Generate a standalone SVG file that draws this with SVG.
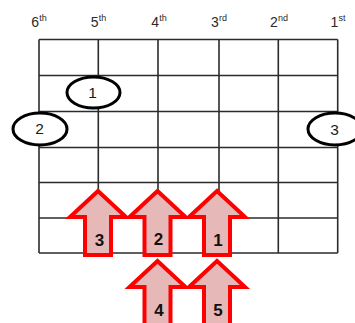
<svg xmlns="http://www.w3.org/2000/svg" width="355" height="323" viewBox="0 0 355 323">
<style>
.grid line{stroke:#2b2b2b;stroke-width:1.6}
.hdr{font-family:"Liberation Sans",Arial,sans-serif;font-size:14px;fill:#2a2a2a;text-anchor:middle}
.sup{font-size:9px}
.finger ellipse{fill:#fff;stroke:#000;stroke-width:3}
.finger text{font-family:"Liberation Sans",Arial,sans-serif;font-size:15.5px;fill:#1a1a1a;text-anchor:middle}
.arrow path{fill:#e6b9b8;stroke:#ff0000;stroke-width:4;stroke-linejoin:miter;stroke-miterlimit:10}
.arrow text{font-family:"Liberation Sans",Arial,sans-serif;font-size:17px;font-weight:bold;fill:#111;text-anchor:middle}
</style>
<rect width="355" height="323" fill="#fff"/>
<g id="headers">
<text class="hdr" x="39" y="26.5">6<tspan class="sup" dy="-5.5">th</tspan></text>
<text class="hdr" x="98.5" y="26.5">5<tspan class="sup" dy="-5.5">th</tspan></text>
<text class="hdr" x="159" y="26.5">4<tspan class="sup" dy="-5.5">th</tspan></text>
<text class="hdr" x="219" y="26.5">3<tspan class="sup" dy="-5.5">rd</tspan></text>
<text class="hdr" x="279" y="26.5">2<tspan class="sup" dy="-5.5">nd</tspan></text>
<text class="hdr" x="338" y="26.5">1<tspan class="sup" dy="-5.5">st</tspan></text>
</g>
<g id="grid" class="grid">
<line x1="39" y1="39.5" x2="39" y2="253"/>
<line x1="98.3" y1="39.5" x2="98.3" y2="253"/>
<line x1="158" y1="39.5" x2="158" y2="253"/>
<line x1="219" y1="39.5" x2="219" y2="253"/>
<line x1="278.3" y1="39.5" x2="278.3" y2="253"/>
<line x1="337.7" y1="39.5" x2="337.7" y2="253"/>
<line x1="39" y1="39.5" x2="337.7" y2="39.5"/>
<line x1="39" y1="75.5" x2="337.7" y2="75.5"/>
<line x1="39" y1="111.5" x2="337.7" y2="111.5"/>
<line x1="39" y1="147.5" x2="337.7" y2="147.5"/>
<line x1="39" y1="182.5" x2="337.7" y2="182.5"/>
<line x1="39" y1="218" x2="337.7" y2="218"/>
<line x1="39" y1="253" x2="337.7" y2="253"/>
</g>
<g id="finger1" class="finger"><ellipse cx="93.5" cy="92.5" rx="26.5" ry="15.5"/><text x="92.5" y="98">1</text></g>
<g id="finger2" class="finger"><ellipse cx="40" cy="129" rx="27" ry="16"/><text x="39.5" y="133.5">2</text></g>
<g id="finger3" class="finger"><ellipse cx="335" cy="129" rx="27" ry="16"/><text x="334.5" y="134.5">3</text></g>
<g id="arrow3" class="arrow"><path d="M98,191 L126,217 L111,217 L111,255 L85,255 L85,217 L70,217 Z"/><text x="99.5" y="246">3</text></g>
<g id="arrow2" class="arrow"><path d="M157.5,191 L185.5,217 L170.5,217 L170.5,255 L144.5,255 L144.5,217 L129.5,217 Z"/><text x="158.5" y="244.5">2</text></g>
<g id="arrow1" class="arrow"><path d="M217,191 L245,217 L230,217 L230,255 L204,255 L204,217 L189,217 Z"/><text x="218" y="245.5">1</text></g>
<g id="arrow4" class="arrow"><path d="M157.5,261 L185.5,287 L170.5,287 L170.5,330 L144.5,330 L144.5,287 L129.5,287 Z"/><text x="159" y="315.5">4</text></g>
<g id="arrow5" class="arrow"><path d="M217,261 L245,287 L230,287 L230,330 L204,330 L204,287 L189,287 Z"/><text x="218" y="315.5">5</text></g>
</svg>
